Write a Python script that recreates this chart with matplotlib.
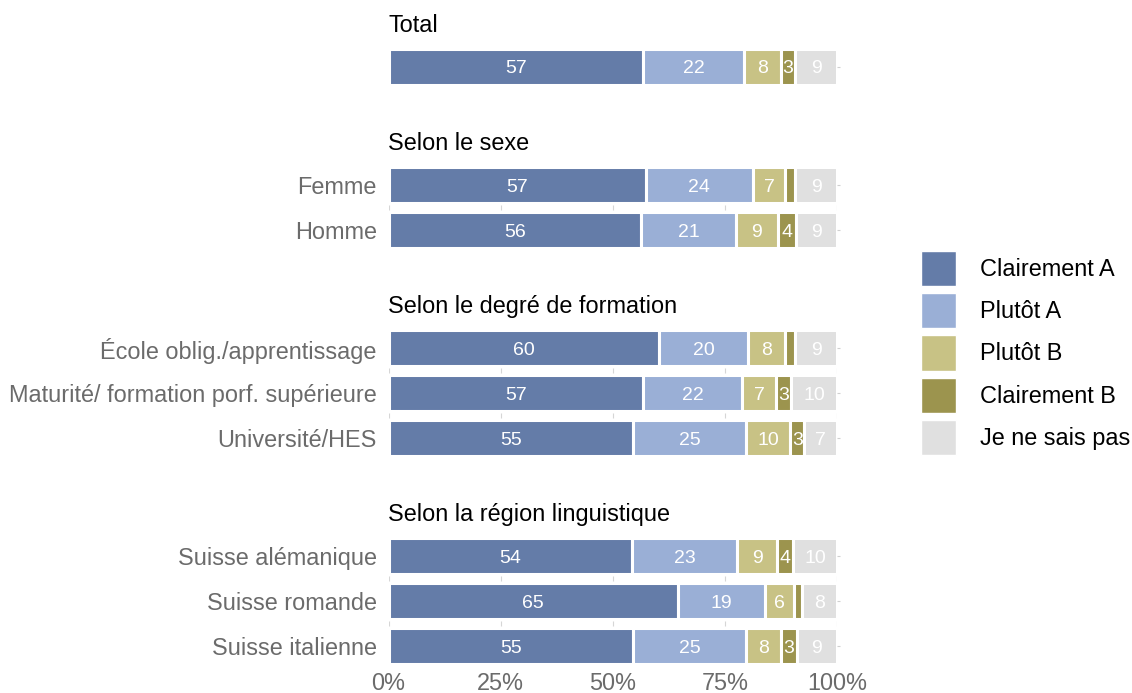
import matplotlib
matplotlib.use("Agg")
import matplotlib.pyplot as plt
from matplotlib.patches import Patch

plt.rcParams['font.family'] = ['Liberation Sans', 'DejaVu Sans']

# ---------------- data ----------------
groups = ["Total", "Selon le sexe", "Selon le degré de formation", "Selon la région linguistique"]
group_rows = [
    [""],
    ["Femme", "Homme"],
    ["École oblig./apprentissage", "Maturité/ formation porf. supérieure", "Université/HES"],
    ["Suisse alémanique", "Suisse romande", "Suisse italienne"],
]
responses = ["Clairement A", "Plutôt A", "Plutôt B", "Clairement B", "Je ne sais pas"]

clairement_a = [56.8, 57.4, 56.4, 60.4, 56.8, 54.6, 54.4, 64.6, 54.6]
plutot_a     = [22.4, 23.8, 21.1, 19.8, 22.1, 25.2, 23.4, 19.4, 25.0]
plutot_b     = [8.3, 7.3, 9.3, 8.1, 7.4, 9.8, 8.8, 6.4, 8.0]
clairement_b = [3.2, 2.2, 4.0, 2.4, 3.4, 3.1, 3.6, 1.7, 3.4]
ne_sais_pas  = [9.3, 9.3, 9.2, 9.3, 10.3, 7.3, 9.8, 7.9, 9.0]
series = [clairement_a, plutot_a, plutot_b, clairement_b, ne_sais_pas]

x_ticks = [0, 25, 50, 75, 100]
x_ticklabels = ["0%", "25%", "50%", "75%", "100%"]

colors = ["#647ca8", "#9aafd6", "#c8c285", "#9c944e", "#e0e0e0"]

# ---------------- layout ----------------
W, H = 1132, 693
FS = 16.9
fig = plt.figure(figsize=(W / 100, H / 100), dpi=100)
ax_left, ax_right = 388.5, 837.0
ax_top, ax_bottom = 44.5, 668.5
ax = fig.add_axes([ax_left / W, 1 - ax_bottom / H, (ax_right - ax_left) / W, (ax_bottom - ax_top) / H])

GAP = 1.63  # extra space between groups, in row units
ypos, labels, title_pos, within_pairs = [], [], [], []
y = 0.0
for gi, rows in enumerate(group_rows):
    if gi > 0:
        y += 1 + GAP
    title_pos.append(y)
    for ri, r in enumerate(rows):
        if ri > 0:
            within_pairs.append((y, y + 1))
            y += 1
        ypos.append(y)
        labels.append(r)

bar_h = 0.8
left = [0.0] * len(ypos)
for s, c, name in zip(series, colors, responses):
    ax.barh(ypos, s, left=left, height=bar_h, color=c, edgecolor="white",
            linewidth=2.2, label=name)
    for yy, l, v in zip(ypos, left, s):
        if v >= 2.5:
            ax.text(l + v / 2, yy, f"{v:.0f}", ha="center", va="center_baseline",
                    color="white", fontsize=14)
    left = [a + b for a, b in zip(left, s)]

# faint ticks between rows inside a group
for a, b in within_pairs:
    m = (a + b) / 2
    ax.vlines(x_ticks, m - 0.06, m + 0.06, color="#d6d6d6", linewidth=0.8)

for gi, g in enumerate(groups):
    ax.text(0, title_pos[gi] - 0.92, g, ha="left", va="center", fontsize=FS, color="black")

ax.set_xlim(0, 100)
ax.set_ylim(ypos[-1] + 0.5, -0.5)
ax.set_yticks(ypos)
ax.set_yticklabels(labels)
ax.set_xticks(x_ticks)
ax.set_xticklabels(x_ticklabels)
ax.tick_params(axis="y", left=False, right=True, length=2, width=0.8, color="#d0d0d0",
               labelleft=True, labelright=False, labelsize=FS, labelcolor="#6b6b6b", pad=6.5)
ax.tick_params(axis="x", length=0, labelsize=FS, labelcolor="#6b6b6b", pad=2.5)
for sp in ax.spines.values():
    sp.set_visible(False)

handles = [Patch(facecolor=c, edgecolor="white", label=n) for c, n in zip(colors, responses)]
fig.legend(handles=handles, loc="center left", bbox_to_anchor=(921 / W, 1 - 353 / H),
           frameon=False, fontsize=FS, handlelength=1.5, handleheight=1.92,
           labelspacing=0.3, handletextpad=1.0, borderaxespad=0, borderpad=0)

fig.savefig("out.png", dpi=100, facecolor="white")
